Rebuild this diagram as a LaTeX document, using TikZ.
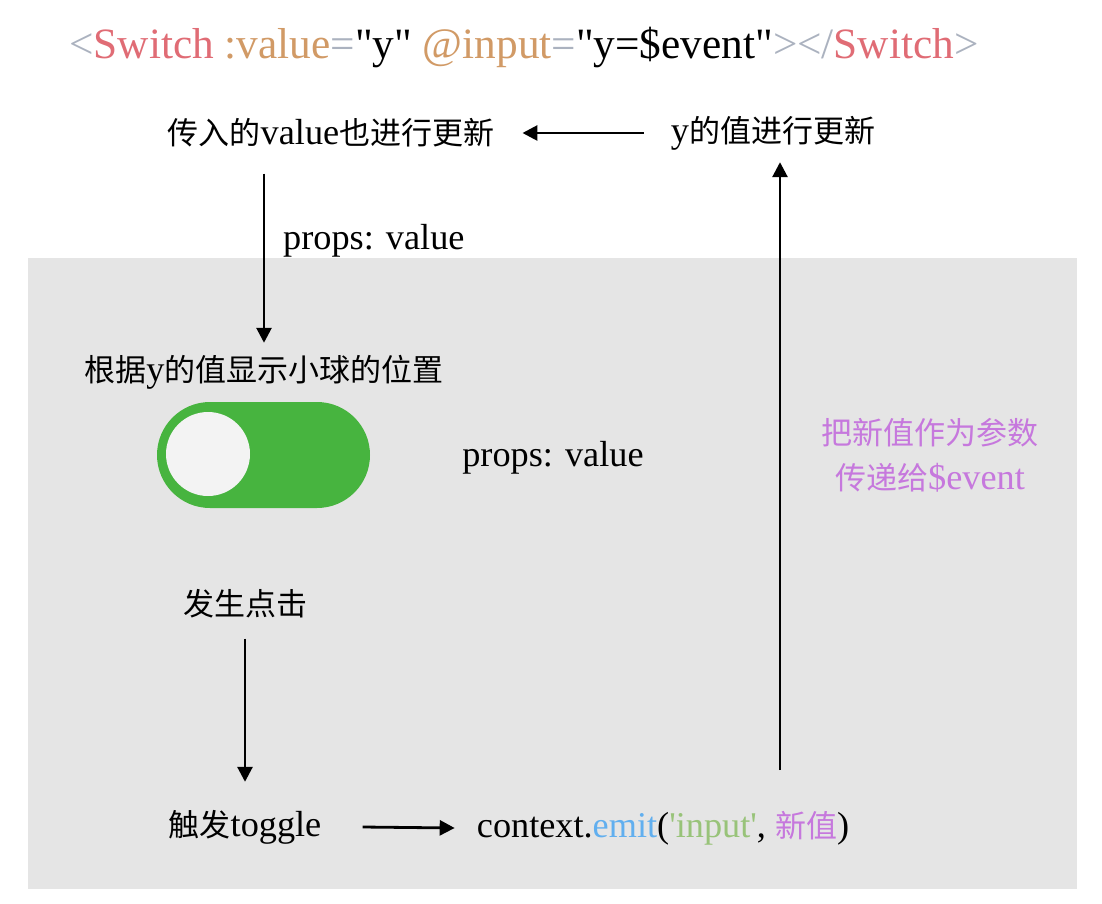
\documentclass[tikz,border=0pt]{standalone}
\usepackage{fontspec}
\setmainfont{Liberation Serif}[Scale=1.17]
\newfontfamily\cjk{Noto Sans CJK SC}
\usetikzlibrary{arrows.meta, positioning, calc}

\definecolor{tagGray}{HTML}{ABB2BF}
\definecolor{tagRed}{HTML}{E06C75}
\definecolor{attrTan}{HTML}{D19A66}
\definecolor{fnBlue}{HTML}{61AFEF}
\definecolor{strGreen}{HTML}{98C379}
\definecolor{hintPurple}{HTML}{C678DD}
\definecolor{panelGray}{HTML}{E5E5E5}
\definecolor{toggleGreen}{HTML}{47B43F}
\definecolor{knobWhite}{HTML}{F3F3F3}

\begin{document}
\begin{tikzpicture}[x=1pt, y=-1pt]
    % --- Style Definitions ---
    \tikzset{
        % plain step text
        step text/.style={
            font=\fontsize{31}{38}\selectfont,
            inner sep=0pt
        },
        % the code line on top
        code text/.style={
            font=\fontsize{37}{44}\selectfont,
            inner sep=0pt
        },
        % the purple remark on the right
        hint text/.style={
            step text,
            text=hintPurple,
            align=center,
            font=\fontsize{31}{45}\selectfont
        },
        % Arrow styling
        flow arrow/.style={
            -{Triangle[length=15pt, width=15pt]},
            line width=2.8pt,
            black
        }
    }

    \useasboundingbox (0,0) rectangle (1102,904);

    % --- 1. Grey panel ---
    \fill[panelGray] (28,258) rectangle (1077,889);

    % --- 2. The template line ---
    \node[code text] (code) at (524,48) {%
        \textcolor{tagGray}{<}\textcolor{tagRed}{Switch}
        \textcolor{attrTan}{:value}\textcolor{tagGray}{=}\textquotedbl y\textquotedbl{}
        \textcolor{attrTan}{@input}\textcolor{tagGray}{=}\textquotedbl y=\$event\textquotedbl%
        \textcolor{tagGray}{></}\textcolor{tagRed}{Switch}\textcolor{tagGray}{>}};

    % --- 3. Upper row ---
    \node[step text] (passed) at (331,133) {{\cjk 传入的}value{\cjk 也进行更新}};
    \node[step text] (ynew) at (773,133) {y{\cjk 的值进行更新}};
    \draw[flow arrow] ([xshift=-27pt]ynew.west) -- ([xshift=28pt]passed.east);

    % --- 4. Switch component ---
    \node[step text] (pos) at (264,372) {{\cjk 根据}y{\cjk 的值显示小球的位置}};
    \node[step text, anchor=west] (propsA) at (283,241) {props: value};
    \draw[flow arrow] ([yshift=-26pt]passed.south -| pos.north) -- ([yshift=12pt]pos.north);

    \node[fill=toggleGreen, rounded corners=53pt, minimum width=213pt,
          minimum height=106pt, inner sep=0pt] (track) at (263.5,455) {};
    \node[circle, fill=knobWhite, minimum size=84pt, inner sep=0pt] (knob) at (208,454) {};
    \node[step text] (propsB) at (553,458) {props: value};

    % --- 5. Click and emit ---
    \node[step text] (click) at (245,604) {\cjk 发生点击};
    \node[step text] (trigger) at (245,827) {{\cjk 触发}toggle};
    \draw[flow arrow] ([yshift=-20pt]click.south) -- ([yshift=28pt]trigger.north);

    \node[step text] (emit) at (663,828) {context.\textcolor{fnBlue}{emit}(%
        \textcolor{strGreen}{\textquotesingle input\textquotesingle}, %
        \textcolor{hintPurple}{\cjk 新值})};
    \draw[flow arrow] ([xshift=41pt]trigger.east) -- ([xshift=-22pt]emit.west);

    % --- 6. Back to the parent ---
    \node[hint text] (hint) at (930,455) {{\cjk 把新值作为参数}\\{\cjk 传递给}\$event};
    \coordinate (riseFoot) at (780,770);
    \draw[flow arrow] (riseFoot) -- ([yshift=-12pt]riseFoot |- ynew.south);

\end{tikzpicture}
\end{document}
